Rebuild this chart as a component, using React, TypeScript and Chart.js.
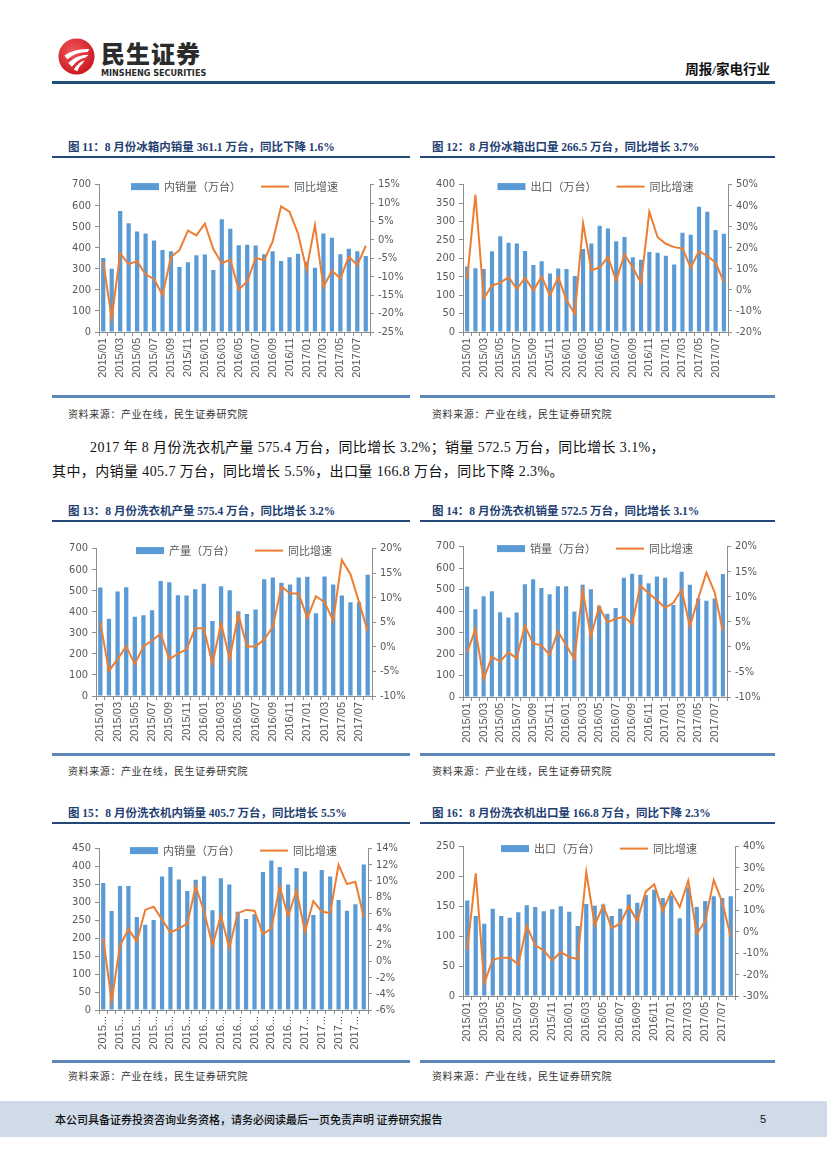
import React, { useEffect, useRef } from "react";
import { Chart, registerables } from "chart.js";
Chart.register(...registerables);

const months = [
  "2015/01", "2015/02", "2015/03", "2015/04", "2015/05", "2015/06", "2015/07", "2015/08",
  "2015/09", "2015/10", "2015/11", "2015/12", "2016/01", "2016/02", "2016/03", "2016/04",
  "2016/05", "2016/06", "2016/07", "2016/08", "2016/09", "2016/10", "2016/11", "2016/12",
  "2017/01", "2017/02", "2017/03", "2017/04", "2017/05", "2017/06", "2017/07", "2017/08",
];

// Fig 11 fridge domestic sales
const fridgeDomesticVol = [352, 300, 575, 516, 477, 468, 434, 390, 384, 309, 331, 365, 368, 294, 535, 490, 412, 414, 411, 369, 384, 337, 355, 372, 334, 305, 468, 448, 369, 395, 383, 361.1];
const fridgeDomesticYoY = [-5.9, -21.4, -3.7, -6.6, -5.8, -9.4, -10.6, -15.0, -4.6, -2.8, 2.5, 1.2, 4.4, -2.5, -6.4, -5.3, -13.5, -11.3, -4.9, -5.5, -0.5, 9.1, 7.6, 1.7, -8.1, 4.0, -12.8, -8.4, -10.4, -4.6, -6.8, -1.6];
// Fig 12 fridge export
const fridgeExportVol = [178, 173, 171, 219, 260, 242, 240, 220, 182, 192, 159, 172, 171, 152, 225, 240, 288, 281, 246, 258, 203, 196, 217, 215, 207, 183, 269, 264, 340, 326, 277, 266.5];
const fridgeExportYoY = [5.2, 45.2, -4.1, 2.1, 3.3, 6.0, 0.5, 5.7, -0.2, 6.3, -2.6, 6.0, -4.9, -11.4, 31.6, 9.4, 10.6, 15.6, 4.4, 16.9, 10.6, 3.3, 37.1, 25.0, 21.9, 20.3, 19.7, 10.6, 18.4, 16.1, 13.0, 3.7];
// Fig 13 washer output
const washerOutputVol = [515, 367, 496, 516, 376, 384, 407, 546, 540, 479, 477, 507, 533, 356, 521, 502, 403, 389, 411, 555, 563, 538, 529, 563, 566, 393, 568, 529, 477, 445, 445, 575.4];
const washerOutputYoY = [5.0, -4.9, -2.5, 0.1, -3.5, 0.1, 1.3, 2.7, -2.5, -1.4, -0.5, 3.8, 3.8, -3.5, 4.8, -2.5, 6.6, 0.1, 0.1, 1.5, 4.1, 12.3, 10.9, 10.8, 5.9, 10.3, 9.1, 5.3, 17.7, 14.8, 9.1, 3.2];
// Fig 14 washer sales
const washerSalesVol = [514, 408, 469, 492, 395, 370, 393, 525, 548, 507, 478, 516, 516, 398, 522, 502, 425, 388, 414, 555, 574, 569, 530, 561, 555, 428, 583, 522, 458, 448, 458, 572.5];
const washerSalesYoY = [-1.1, 3.5, -6.4, -2.0, -2.9, -1.1, -2.3, 4.2, 0.7, 0.3, -1.6, 3.1, 0.3, -2.4, 11.3, 2.1, 8.0, 4.9, 5.6, 6.0, 4.6, 12.2, 10.7, 9.3, 7.8, 8.8, 11.4, 4.1, 9.6, 14.8, 10.9, 3.1];
// Fig 15 washer domestic sales
const washerDomesticVol = [354, 276, 346, 346, 259, 238, 251, 372, 399, 364, 332, 363, 373, 278, 367, 350, 274, 254, 267, 385, 417, 399, 350, 396, 386, 265, 390, 372, 307, 277, 295, 405.7];
const washerDomesticYoY = [2.9, -4.9, 2.0, 4.0, 2.5, 6.4, 6.8, 5.2, 3.6, 4.1, 4.7, 9.3, 6.2, 2.0, 5.7, 1.7, 6.0, 6.4, 6.3, 3.4, 4.1, 9.3, 5.6, 8.8, 3.7, 7.5, 6.2, 6.0, 12.0, 9.6, 9.9, 5.5];
// Fig 16 washer export
const washerExportVol = [160, 134, 121, 146, 134, 131, 140, 152, 149, 142, 145, 150, 141, 117, 154, 151, 153, 134, 146, 170, 156, 169, 178, 164, 168, 130, 182, 149, 159, 167, 164, 166.8];
const washerExportYoY = [-8.3, 27.5, -24.1, -12.9, -12.1, -12.1, -15.2, 2.8, -6.3, -8.6, -13.4, -9.4, -11.8, -12.7, 28.1, 3.2, 12.4, 1.7, 4.0, 12.1, 5.1, 18.9, 22.4, 9.8, 18.9, 11.7, 24.0, -0.9, 5.1, 24.3, 14.0, -2.3];

const BAR = "#5B9BD5";
const LINE = "#ED7D31";
const AX = "#8C8C8C";
const TXT = "#595959";
const Y_FONT = { family: "'Liberation Sans Narrow', 'DejaVu Sans Condensed', 'Liberation Sans', sans-serif", size: 11 };
const X_FONT = { family: "'Liberation Sans', 'DejaVu Sans', sans-serif", size: 11 };
const CJK = "'Noto Sans CJK SC', sans-serif";
const SERIF_CJK = "'Liberation Serif', 'Noto Sans CJK SC', serif";

const overlayLegend = {
  id: "overlayLegend",
  afterDraw(chart: any) {
    const { ctx, chartArea } = chart;
    const ds = chart.data.datasets;
    const bar = ds.find((d: any) => d.type === "bar");
    const line = ds.find((d: any) => d.type === "line");
    ctx.save();
    ctx.font = `11px ${CJK}`;
    ctx.textBaseline = "middle";
    const sw = 28, g1 = 5, g2 = 20;
    const t1 = ctx.measureText(bar.label).width;
    const t2 = ctx.measureText(line.label).width;
    const total = sw + g1 + t1 + g2 + sw + g1 + t2;
    let x = (chartArea.left + chartArea.right) / 2 - total / 2;
    const y = chartArea.top + 2;
    ctx.fillStyle = BAR;
    ctx.fillRect(x, y - 3.5, sw, 7);
    x += sw + g1;
    ctx.fillStyle = TXT;
    ctx.fillText(bar.label, x, y);
    x += t1 + g2;
    ctx.strokeStyle = LINE;
    ctx.lineWidth = 2;
    ctx.beginPath();
    ctx.moveTo(x, y);
    ctx.lineTo(x + sw, y);
    ctx.stroke();
    x += sw + g1;
    ctx.fillText(line.label, x, y);
    ctx.restore();
  },
};

type Spec = {
  barLabel: string;
  bars: number[];
  yoy: number[];
  lMax: number;
  lStep: number;
  rMin: number;
  rMax: number;
  rStep: number;
  truncate?: boolean;
  plot: [number, number, number, number]; // left, top, right, bottom
};

const LW = 40, RW = 40, TP = 8, XH = 54;

function ComboChart({ spec }: { spec: Spec }) {
  const ref = useRef<HTMLCanvasElement>(null);
  useEffect(() => {
    if (!ref.current) return;
    const axisCommon = {
      grid: { display: true, drawOnChartArea: false, drawTicks: true, tickLength: 4, color: AX },
      border: { display: true, color: AX },
    };
    const chart = new Chart(ref.current, {
      type: "bar",
      data: {
        labels: months,
        datasets: [
          {
            type: "line",
            label: "同比增速",
            data: spec.yoy,
            borderColor: LINE,
            backgroundColor: LINE,
            borderWidth: 2,
            pointRadius: 0,
            tension: 0,
            yAxisID: "y1",
            order: 0,
          } as any,
          {
            type: "bar",
            label: spec.barLabel,
            data: spec.bars,
            backgroundColor: BAR,
            categoryPercentage: 1,
            barPercentage: 0.5,
            yAxisID: "y",
            order: 1,
          } as any,
        ],
      },
      options: {
        animation: false,
        responsive: true,
        maintainAspectRatio: false,
        layout: { padding: { top: TP, left: 0, right: 0, bottom: 0 } },
        plugins: { legend: { display: false }, tooltip: { enabled: false } },
        scales: {
          x: {
            type: "category",
            offset: true,
            ...axisCommon,
            grid: { ...axisCommon.grid, offset: true },
            afterFit: (s: any) => { s.height = XH; },
            ticks: {
              autoSkip: false,
              maxRotation: 90,
              minRotation: 90,
              padding: 2,
              color: TXT,
              font: X_FONT,
              callback: (_v: any, i: number) =>
                i % 2 === 0 ? (spec.truncate ? months[i].slice(0, 4) + "..." : months[i]) : "",
            },
          },
          y: {
            position: "left",
            min: 0,
            max: spec.lMax,
            ...axisCommon,
            afterFit: (s: any) => { s.width = LW; },
            ticks: { stepSize: spec.lStep, autoSkip: false, color: TXT, font: Y_FONT, padding: 4 },
          },
          y1: {
            position: "right",
            min: spec.rMin,
            max: spec.rMax,
            ...axisCommon,
            afterFit: (s: any) => { s.width = RW; },
            ticks: {
              stepSize: spec.rStep,
              autoSkip: false,
              color: TXT,
              font: Y_FONT,
              padding: 4,
              callback: (v: any) => `${v}%`,
            },
          },
        },
      } as any,
      plugins: [overlayLegend],
    });
    return () => chart.destroy();
  }, [spec]);
  const [l, t, r, b] = spec.plot;
  return (
    <div
      style={{
        position: "absolute",
        left: l - LW,
        top: t - TP,
        width: r - l + LW + RW,
        height: b - t + TP + XH,
      }}
    >
      <canvas ref={ref} />
    </div>
  );
}

const specs: Spec[] = [
  { barLabel: "内销量（万台）", bars: fridgeDomesticVol, yoy: fridgeDomesticYoY, lMax: 700, lStep: 100, rMin: -25, rMax: 15, rStep: 5, plot: [99, 182, 370, 332] },
  { barLabel: "出口（万台）", bars: fridgeExportVol, yoy: fridgeExportYoY, lMax: 400, lStep: 50, rMin: -20, rMax: 50, rStep: 10, plot: [463, 182, 728, 332] },
  { barLabel: "产量（万台）", bars: washerOutputVol, yoy: washerOutputYoY, lMax: 700, lStep: 100, rMin: -10, rMax: 20, rStep: 5, plot: [96, 546, 372, 696] },
  { barLabel: "销量（万台）", bars: washerSalesVol, yoy: washerSalesYoY, lMax: 700, lStep: 100, rMin: -10, rMax: 20, rStep: 5, plot: [463, 544, 727, 697] },
  { barLabel: "内销量（万台）", bars: washerDomesticVol, yoy: washerDomesticYoY, lMax: 450, lStep: 50, rMin: -6, rMax: 14, rStep: 2, truncate: true, plot: [99, 846, 368, 1010] },
  { barLabel: "出口（万台）", bars: washerExportVol, yoy: washerExportYoY, lMax: 250, lStep: 50, rMin: -30, rMax: 40, rStep: 10, plot: [463, 844, 735, 996] },
];

const titles = [
  ["图 11：8 月份冰箱内销量 361.1 万台，同比下降 1.6%", "图 12：8 月份冰箱出口量 266.5 万台，同比增长 3.7%"],
  ["图 13：8 月份洗衣机产量 575.4 万台，同比增长 3.2%", "图 14：8 月份洗衣机销量 572.5 万台，同比增长 3.1%"],
  ["图 15：8 月份洗衣机内销量 405.7 万台，同比增长 5.5%", "图 16：8 月份洗衣机出口量 166.8 万台，同比下降 2.3%"],
];
const titleY = [147, 511, 813];
const dividerY = [396, 754, 1061];
const sourceY = [414, 771, 1076];
const SOURCE = "资料来源：产业在线，民生证券研究院";

function Logo() {
  return (
    <div style={{ position: "absolute", left: 58, top: 38 }}>
      <svg width="37" height="37" viewBox="0 0 40 40" style={{ position: "absolute", left: 0, top: 0 }}>
        <defs>
          <radialGradient id="lg" cx="40%" cy="35%" r="70%">
            <stop offset="0%" stopColor="#F0555A" />
            <stop offset="100%" stopColor="#C8161D" />
          </radialGradient>
        </defs>
        <circle cx="20" cy="20" r="19.5" fill="url(#lg)" />
        <path d="M7 19 Q18 11 34 12 L32 15 Q19 15 10 23 Z" fill="#fff" />
        <path d="M11 27 Q20 18 33 18 L30 21 Q22 22 15 31 Z" fill="#fff" />
        <path d="M17 34 Q22 26 29 24 L26 28 Q23 30 21 36 Z" fill="#fff" />
      </svg>
      <div style={{ position: "absolute", left: 43, top: 1, fontFamily: CJK, fontWeight: 900, fontSize: 24, color: "#2B2B2B", letterSpacing: 1, whiteSpace: "nowrap", lineHeight: "27px" }}>
        民生证券
      </div>
      <div style={{ position: "absolute", left: 43, top: 30, fontFamily: "'Liberation Sans Narrow', 'DejaVu Sans Condensed', 'Liberation Sans', sans-serif", fontWeight: 700, fontSize: 9, color: "#2B2B2B", whiteSpace: "nowrap", lineHeight: "10px" }}>
        MINSHENG SECURITIES
      </div>
    </div>
  );
}

export default function App() {
  const abs = (o: React.CSSProperties): React.CSSProperties => ({ position: "absolute", whiteSpace: "nowrap", ...o });
  return (
    <div style={{ position: "absolute", left: 0, top: 0, width: 827, height: 1169, background: "#fff", overflow: "hidden" }}>
      <Logo />
      <div style={abs({ right: 57, top: 61, fontFamily: SERIF_CJK, fontWeight: 700, fontSize: 13.5, color: "#111", lineHeight: "18px" })}>
        周报/家电行业
      </div>
      <div style={abs({ left: 52, top: 81, width: 723, height: 2.5, background: "#1F4E79" })} />

      {titles.map((row, ri) => (
        <React.Fragment key={ri}>
          {row.map((t, ci) => (
            <React.Fragment key={ci}>
              <div style={abs({ left: ci === 0 ? 68 : 432, top: titleY[ri] - 9, fontFamily: SERIF_CJK, fontWeight: 700, fontSize: 11.5, color: "#1F3F73", lineHeight: "18px" })}>
                {t}
              </div>
              <div style={abs({ left: ci === 0 ? 52 : 420, top: titleY[ri] + 9, width: ci === 0 ? 358 : 355, height: 1.5, background: "#24477A" })} />
              <div style={abs({ left: ci === 0 ? 52 : 420, top: dividerY[ri] - 1, width: ci === 0 ? 358 : 355, height: 2.5, background: "#5A87B8" })} />
              <div style={abs({ left: ci === 0 ? 68 : 432, top: sourceY[ri] - 7, fontFamily: CJK, fontSize: 10, letterSpacing: 0.6, color: "#333", lineHeight: "14px" })}>
                {SOURCE}
              </div>
            </React.Fragment>
          ))}
        </React.Fragment>
      ))}

      <div style={abs({ left: 90, top: 438, fontFamily: SERIF_CJK, fontSize: 14, letterSpacing: 0.4, color: "#111", lineHeight: "20px" })}>
        2017 年 8 月份洗衣机产量 575.4 万台，同比增长 3.2%；销量 572.5 万台，同比增长 3.1%，
      </div>
      <div style={abs({ left: 52, top: 462, fontFamily: SERIF_CJK, fontSize: 14, letterSpacing: 0.4, color: "#111", lineHeight: "20px" })}>
        其中，内销量 405.7 万台，同比增长 5.5%，出口量 166.8 万台，同比下降 2.3%。
      </div>

      {specs.map((s, i) => (
        <ComboChart key={i} spec={s} />
      ))}

      <div style={abs({ left: 0, top: 1101, width: 827, height: 36, background: "#CFDBE8" })} />
      <div style={abs({ left: 55, top: 1111, fontFamily: CJK, fontWeight: 500, fontSize: 11, color: "#111", lineHeight: "16px" })}>
        本公司具备证券投资咨询业务资格，请务必阅读最后一页免责声明 证券研究报告
      </div>
      <div style={abs({ left: 760, top: 1111, fontFamily: "'Liberation Sans', sans-serif", fontSize: 11, color: "#111", lineHeight: "16px" })}>
        5
      </div>
    </div>
  );
}
